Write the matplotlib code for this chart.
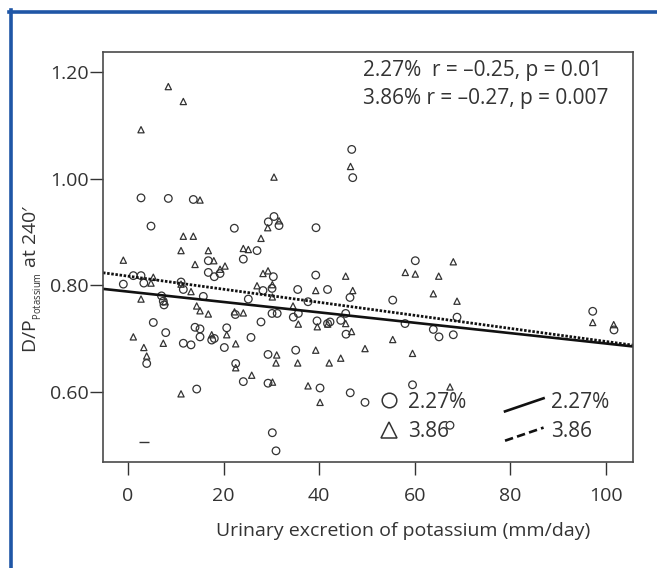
import matplotlib
matplotlib.use('Agg')
import matplotlib.pyplot as plt
from matplotlib.lines import Line2D
from matplotlib.legend_handler import HandlerBase
import numpy as np

plt.rcParams['font.family'] = ['Open Sans', 'DejaVu Sans']
plt.rcParams['mathtext.default'] = 'regular'

# 2.27% group (circles)
x_227 = [2.72, 8.43, 13.66, 4.81, 22.24, 29.35, 30.54, 31.59, 39.33, 46.80,
         47.01, 26.99, 24.12, 16.80, 16.80, 19.25, 18.05, 30.40, 1.11, 2.72,
         -0.98, 3.31, 11.09, 11.57, 28.24, 30.13, 7.01, 7.38, 7.53, 15.75,
         25.17, 22.45, 5.29, 27.82, 30.13, 31.21, 7.89, 14.02, 15.06, 20.65,
         15.06, 17.51, 18.05, 25.73, 11.57, 13.18, 20.15, 3.91, 29.29, 22.53,
         24.12, 29.29, 14.37, 30.19, 30.96, 60.10, 39.27, 35.50, 41.74, 46.44,
         37.66, 55.38, 34.58, 35.63, 45.54, 68.83, 39.54, 41.74, 42.26, 44.50,
         45.61, 57.95, 63.87, 65.06, 68.05, 35.08, 40.17, 59.52, 46.49, 49.58,
         67.36, 97.22, 101.67]
y_227 = [0.964, 0.963, 0.961, 0.911, 0.907, 0.919, 0.929, 0.912, 0.908, 1.055,
         1.002, 0.865, 0.849, 0.846, 0.824, 0.822, 0.816, 0.816, 0.818, 0.818,
         0.802, 0.804, 0.806, 0.792, 0.790, 0.794, 0.780, 0.770, 0.763, 0.779,
         0.774, 0.745, 0.730, 0.731, 0.747, 0.747, 0.711, 0.721, 0.718, 0.720,
         0.703, 0.697, 0.700, 0.702, 0.691, 0.688, 0.683, 0.653, 0.670, 0.653,
         0.619, 0.616, 0.605, 0.523, 0.489, 0.846, 0.819, 0.792, 0.792, 0.777,
         0.769, 0.772, 0.740, 0.747, 0.747, 0.740, 0.733, 0.728, 0.731, 0.734,
         0.708, 0.728, 0.717, 0.703, 0.707, 0.678, 0.607, 0.613, 0.598, 0.580,
         0.537, 0.751, 0.716]

# 3.86% group (triangles)
x_386 = [8.43, 11.57, 2.72, 30.54, 15.06, 11.57, 13.66, 27.82, 29.23, 31.59,
         46.55, 11.09, 16.80, 24.12, 25.17, -0.98, 17.95, 14.02, 20.29, 19.25,
         28.24, 29.29, 5.29, 4.81, 11.09, 13.18, 26.99, 30.19, 30.19, 2.72,
         7.74, 14.37, 15.06, 16.80, 22.28, 24.12, 20.65, 17.51, 1.11, 7.38,
         22.53, 3.31, 3.91, 31.11, 30.96, 22.53, 25.88, 30.23, 11.09, 68.05,
         58.01, 60.10, 65.00, 45.54, 39.27, 47.01, 63.87, 68.83, 34.52, 35.63,
         39.60, 41.78, 45.54, 46.76, 55.38, 39.27, 49.58, 59.52, 35.50, 42.09,
         44.50, 37.66, 67.36, 40.17, 97.22, 101.61]
y_386 = [1.173, 1.145, 1.092, 1.003, 0.960, 0.892, 0.892, 0.888, 0.908, 0.921,
         1.023, 0.865, 0.865, 0.869, 0.867, 0.847, 0.846, 0.839, 0.836, 0.830,
         0.822, 0.827, 0.815, 0.804, 0.802, 0.788, 0.799, 0.801, 0.778, 0.774,
         0.769, 0.761, 0.752, 0.746, 0.750, 0.748, 0.707, 0.707, 0.703, 0.691,
         0.690, 0.683, 0.667, 0.669, 0.654, 0.645, 0.631, 0.618, 0.596, 0.844,
         0.824, 0.821, 0.817, 0.817, 0.790, 0.790, 0.784, 0.770, 0.761, 0.727,
         0.722, 0.727, 0.728, 0.713, 0.698, 0.678, 0.681, 0.672, 0.654, 0.654,
         0.663, 0.611, 0.609, 0.580, 0.730, 0.726]

# stray mark in the original figure
x_odd = [3.41]
y_odd = [0.505]

# regression lines: intercept, slope
fit_227 = (0.788, -0.000975)
fit_386 = (0.817, -0.001227)

stats_lines = ['2.27%  r = \u20130.25, p = 0.01', '3.86% r = \u20130.27, p = 0.007']
legend_labels = ['2.27%', '3.86']
x_ticks = [0, 20, 40, 60, 80, 100]
y_ticks = [0.60, 0.80, 1.00, 1.20]

ink = '#333333'
fs = 14
fs_note = 15


class SlantHandler(HandlerBase):
    # legend handle drawn as a rising diagonal
    def create_artists(self, legend, orig_handle, xdescent, ydescent,
                       width, height, fontsize, trans):
        x0, y0 = -xdescent, -ydescent
        ln = Line2D([x0, x0 + width], [y0 - 0.25 * height, y0 + 0.65 * height])
        ln.update_from(orig_handle)
        ln.set_transform(trans)
        return [ln]


fig = plt.figure(figsize=(6.57, 5.68), dpi=100)
ax = fig.add_axes((0.1568, 0.1866, 0.8067, 0.7219))

# blue panel frame (top and left)
fig.add_artist(Line2D([9 / 657, 1], [1 - 11.5 / 568] * 2, transform=fig.transFigure,
                      color='#1f56a6', lw=2.6))
fig.add_artist(Line2D([11 / 657] * 2, [0, 1 - 10 / 568], transform=fig.transFigure,
                      color='#1f56a6', lw=2.6))

ax.scatter(x_227, y_227, s=30, marker='o', facecolors='none', edgecolors=ink, linewidths=0.9)
ax.scatter(x_386, y_386, s=20, marker='^', facecolors='none', edgecolors=ink, linewidths=0.9)
ax.scatter(x_odd, y_odd, s=60, marker='_', color=ink, linewidths=1.0)

ax.set_xlim(-5.23, 105.65)
ax.set_ylim(0.468, 1.238)

xl = np.array(ax.get_xlim())
ax.plot(xl, fit_227[0] + fit_227[1] * xl, color='#111111', lw=1.9, solid_capstyle='butt')
ax.plot(xl, fit_386[0] + fit_386[1] * xl, color='#111111', lw=2.0, ls=(0, (0.9, 0.6)))

ax.set_xticks(x_ticks)
ax.set_yticks(y_ticks)
ax.set_yticklabels([f'{v:.2f}' for v in y_ticks])
ax.tick_params(axis='both', direction='out', colors=ink, labelsize=fs, width=1.0)
ax.tick_params(axis='x', length=9, pad=9)
ax.tick_params(axis='y', length=9.5, pad=1)
for s in ax.spines.values():
    s.set_color('#4a4a4a')
    s.set_linewidth(1.2)

ax.set_xlabel('Urinary excretion of potassium (mm/day)', fontsize=fs, color=ink)
ax.xaxis.set_label_coords(0.566, -0.147)
ax.set_ylabel('D/P$_{{}_{Potassium}}$ at 240\u2032', fontsize=fs, color=ink)
ax.yaxis.set_label_coords(-0.112, 0.448)

ax.text(0.4906, 0.9537, stats_lines[0], transform=ax.transAxes, fontsize=fs_note,
        color=ink, va='center', ha='left')
ax.text(0.4906, 0.8854, stats_lines[1], transform=ax.transAxes, fontsize=fs_note,
        color=ink, va='center', ha='left')

h_marks = [Line2D([], [], ls='none', marker='o', ms=10.5, mfc='none', mec=ink, mew=1.1),
           Line2D([], [], ls='none', marker='^', ms=11, mfc='none', mec=ink, mew=1.1)]
leg1 = ax.legend(h_marks, legend_labels, loc='center left', bbox_to_anchor=(0.52, 0.11),
                 frameon=False, fontsize=fs_note, handlelength=0.95, handletextpad=0.45,
                 labelspacing=0.4, borderpad=0, borderaxespad=0, labelcolor=ink)
ax.add_artist(leg1)

h_lines = [Line2D([], [], color='#111111', lw=1.9),
           Line2D([], [], color='#111111', lw=1.9, ls=(0, (3.2, 1.6)))]
ax.legend(h_lines, legend_labels, loc='center left', bbox_to_anchor=(0.7585, 0.11),
          frameon=False, fontsize=fs_note, handlelength=1.85, handletextpad=0.35,
          labelspacing=0.4, borderpad=0, borderaxespad=0, labelcolor=ink,
          handler_map={Line2D: SlantHandler()})

fig.savefig('out.png', dpi=100)
